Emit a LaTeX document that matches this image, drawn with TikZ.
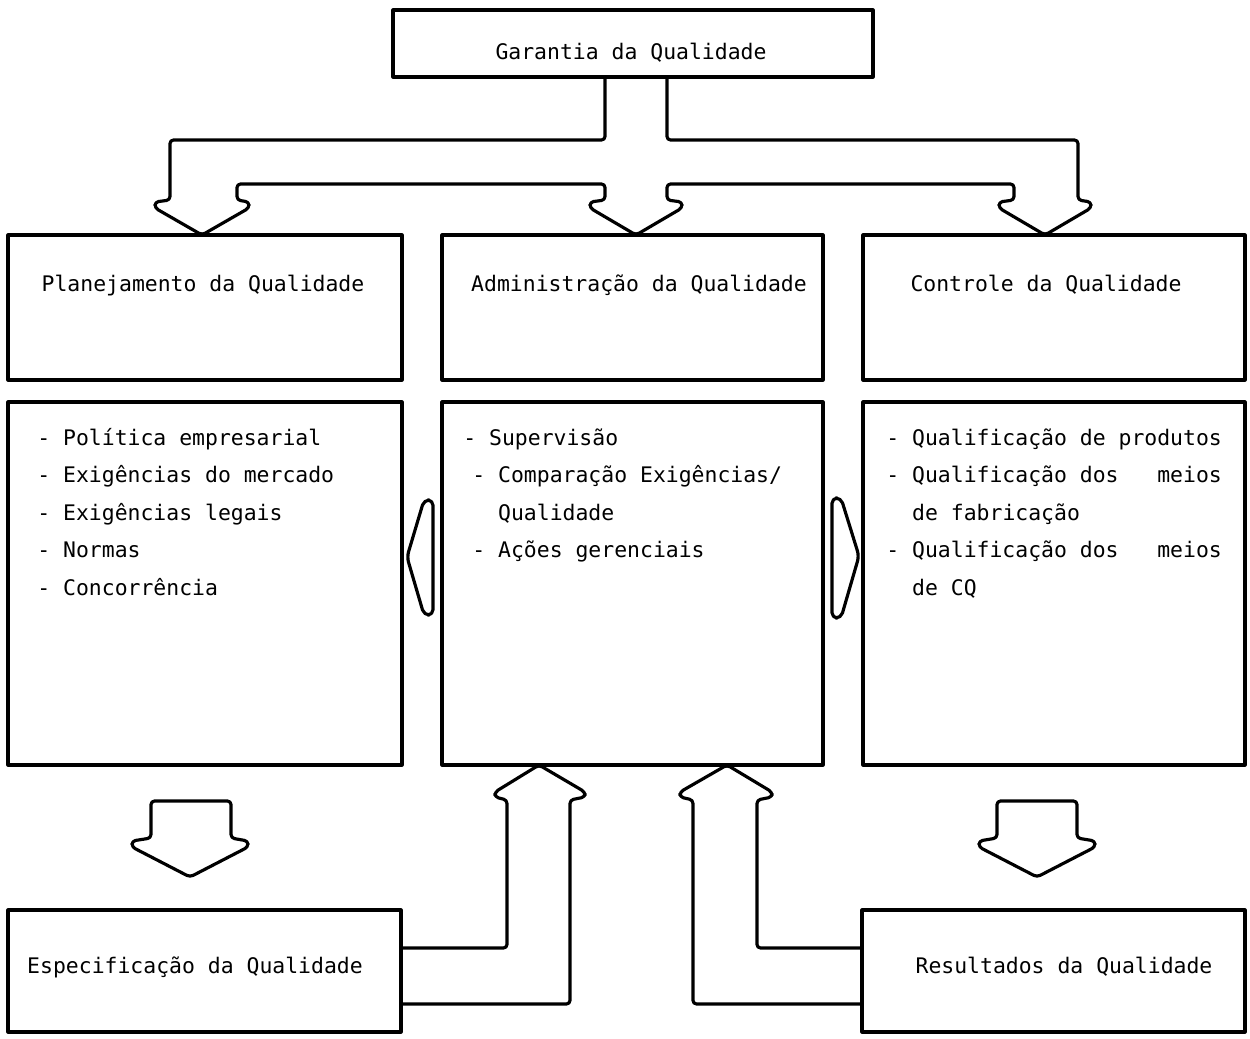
\documentclass[tikz,border=0pt]{standalone}
\usepackage{fontspec}
\setmonofont{DejaVu Sans Mono}
\usetikzlibrary{calc}

\begin{document}
\begin{tikzpicture}[x=0.02cm, y=-0.02cm, line join=round,
		box/.style 2 args={draw, line width=1.8pt, inner sep=0pt, outer sep=0pt, minimum width=#1, minimum height=#2},
		blk/.style={draw, line width=1.8pt, rounded corners=2pt},
		lbl/.style={font=\ttfamily\fontsize{12.2pt}{15pt}\selectfont, inner sep=0pt, anchor=base},
		item/.style={lbl, anchor=base west}]
		\useasboundingbox (0,0) rectangle (1250,1038);
		
		% boxes
		\node[box={9.6cm}{1.34cm}] (garantia) at (633,43.5) {};
		\node[box={7.88cm}{2.9cm}] (plan) at (205,307.5) {};
		\node[box={7.62cm}{2.9cm}] (admin) at (632.5,307.5) {};
		\node[box={7.64cm}{2.9cm}] (contr) at (1054,307.5) {};
		\node[box={7.88cm}{7.26cm}] (planlist) at (205,583.5) {};
		\node[box={7.62cm}{7.26cm}] (adminlist) at (632.5,583.5) {};
		\node[box={7.64cm}{7.26cm}] (contrlist) at (1054,583.5) {};
		\node[box={7.86cm}{2.44cm}] (espec) at (204.5,971) {};
		\node[box={7.66cm}{2.44cm}] (result) at (1053.5,971) {};
		
		% titles
		\node[lbl] (garantiatxt) at (631,59) {Garantia da Qualidade};
		\node[lbl] (plantxt) at (203,291) {Planejamento da Qualidade};
		\node[lbl] (admintxt) at (639,291) {Administração da Qualidade};
		\node[lbl] (contrtxt) at (1046,291) {Controle da Qualidade};
		\node[lbl] (espectxt) at (195,973) {Especificação da Qualidade};
		\node[lbl] (resulttxt) at (1064,973) {Resultados da Qualidade};
		
		% lists
		\foreach \t [count=\i from 0] in {- Política empresarial, - Exigências do mercado, - Exigências legais, - Normas, - Concorrência}
			\node[item] (pl\i) at (37,445+37.5*\i) {\t};
		\node[item] (ad0) at (463,445) {- Supervisão};
		\node[item] (ad1) at (472,482.5) {- Comparação Exigências/};
		\node[item] (ad2) at (472,520) {\phantom{- }Qualidade};
		\node[item] (ad3) at (472,557.5) {- Ações gerenciais};
		\foreach \t [count=\i from 0] in {- Qualificação de produtos, - Qualificação dos\ \ \ meios, \phantom{- }de fabricação, - Qualificação dos\ \ \ meios, \phantom{- }de CQ}
			\node[item] (cq\i) at (886,445+37.5*\i) {\t};
		
		% block arrows from the top
		\draw[blk] (605,0 |- garantia.south) -- (605,140) -- (170,140) -- (170,200) -- (155,202) -- (155,208)
			-- (202,0 |- plan.north) -- (249,208) -- (249,202) -- (237,200) -- (237,184) -- (605,184)
			-- (605,200) -- (590,202) -- (590,208) -- (636,0 |- admin.north) -- (682,208) -- (682,202)
			-- (667,200) -- (667,184) -- (1014,184) -- (1014,200) -- (999,202) -- (999,208)
			-- (1045,0 |- contr.north) -- (1091,208) -- (1091,202) -- (1078,200) -- (1078,140)
			-- (667,140) -- (667,0 |- garantia.south);
		
		% side arrows
		\draw[blk, rounded corners=3pt] (424,500) -- (433,500) -- (433,615) -- (424,615) -- (407,557) -- cycle;
		\draw[blk, rounded corners=3pt] (832,498) -- (841,498) -- (859,556) -- (841,618) -- (832,618) -- cycle;
		
		% block arrows down
		\draw[blk] (151,801) -- (231,801) -- (231,838) -- (248,841) -- (248,847) -- (190,877)
			-- (132,847) -- (132,841) -- (151,838) -- cycle;
		\draw[blk] (997,801) -- (1077,801) -- (1077,838) -- (1095,841) -- (1095,847) -- (1037,877)
			-- (979,847) -- (979,841) -- (997,838) -- cycle;
		
		% block arrows up
		\draw[blk] (espec.east |- 0,948) -- (507,948) -- (507,800) -- (495,797) -- (495,792)
			-- (539,0 |- adminlist.south) -- (585,792) -- (585,797) -- (570,800) -- (570,1004)
			-- (espec.east |- 0,1004);
		\draw[blk] (result.west |- 0,948) -- (757,948) -- (757,800) -- (772,797) -- (772,792)
			-- (727,0 |- adminlist.south) -- (680,792) -- (680,797) -- (693,800) -- (693,1004)
			-- (result.west |- 0,1004);
\end{tikzpicture}
\end{document}
